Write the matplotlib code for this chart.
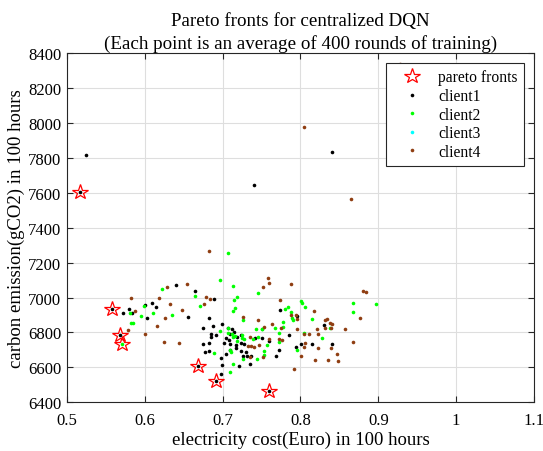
import numpy as np
import matplotlib
matplotlib.use("Agg")
import matplotlib.pyplot as plt

plt.rcParams['font.family'] = ['Liberation Serif', 'DejaVu Serif']

# pareto fronts
pareto_cost = [0.517, 0.558, 0.568, 0.571, 0.668, 0.691, 0.759]
pareto_emis = [7607, 6935, 6786, 6734, 6610, 6520, 6463]

# client1 (black)
c1_cost = [0.517, 0.524, 0.740, 0.841,
           0.558, 0.568, 0.572, 0.580, 0.583, 0.600, 0.603, 0.609, 0.614, 0.640,
           0.656, 0.665, 0.668, 0.683, 0.689, 0.691, 0.759, 0.675, 0.687, 0.699,
           0.685, 0.691, 0.685, 0.675, 0.682, 0.677, 0.682, 0.702, 0.698, 0.699,
           0.698, 0.721, 0.704, 0.709, 0.708, 0.709, 0.717, 0.717, 0.723, 0.728,
           0.724, 0.730, 0.731, 0.726, 0.736, 0.742, 0.769, 0.785, 0.710, 0.715,
           0.712, 0.719, 0.724, 0.735, 0.707, 0.751, 0.759, 0.773, 0.794, 0.796,
           0.774, 0.830, 0.840, 0.815, 0.801, 0.704]
c1_emis = [7607, 7817, 7645, 7833,
           6935, 6786, 6914, 6933, 6910, 6956, 6885, 6967, 6944, 7070,
           6891, 7038, 6610, 6883, 6994, 6520, 6463, 6824, 6835, 6847,
           6791, 6788, 6776, 6734, 6738, 6686, 6694, 6740, 6652, 6616,
           6562, 6606, 6677, 6698, 6755, 6734, 6730, 6711, 6738, 6736,
           6696, 6690, 6667, 6663, 6663, 6767, 6663, 6786, 6791, 6801,
           6820, 6776, 6788, 6618, 6828, 6767, 6753, 6700, 6719, 6896,
           6931, 6843, 6736, 6734, 6734, 6767]

# client2 (green)
c2_cost = [0.707, 0.696, 0.713, 0.622, 0.664, 0.718, 0.715, 0.671, 0.716, 0.713,
           0.726, 0.635, 0.610, 0.599, 0.595, 0.581, 0.582, 0.585, 0.571, 0.689,
           0.709, 0.713, 0.726, 0.753, 0.753, 0.744, 0.746, 0.739, 0.743, 0.750,
           0.746, 0.757, 0.767, 0.773, 0.778, 0.777, 0.780, 0.784, 0.788, 0.789,
           0.791, 0.801, 0.802, 0.806, 0.815, 0.805, 0.828, 0.795, 0.773, 0.868,
           0.868, 0.897, 0.838, 0.707, 0.697, 0.707, 0.713, 0.716, 0.725, 0.718,
           0.709, 0.711, 0.728, 0.712, 0.725, 0.750]
c2_emis = [7253, 7101, 7066, 7051, 7007, 7001, 6986, 6954, 6940, 6923,
           6873, 6898, 6912, 6952, 6893, 6912, 6856, 6852, 6734, 6683,
           6572, 6620, 6648, 6673, 6696, 6646, 6774, 6763, 6822, 6822,
           7028, 6728, 6824, 6799, 6831, 6862, 6935, 6946, 6919, 6883,
           6873, 6980, 6967, 6948, 6877, 6797, 6770, 6698, 6747, 6969,
           6915, 6961, 6828, 6828, 6807, 6795, 6772, 6778, 6788, 6749,
           6702, 6686, 6763, 6789, 6767, 6820]

# client3 (cyan) - not visible in the figure
c3_cost = []
c3_emis = []

# client4 (brown)
c4_cost = [0.805, 0.865, 0.928,
           0.682, 0.758, 0.760, 0.752, 0.788, 0.629, 0.654, 0.618, 0.582, 0.632,
           0.648, 0.588, 0.626, 0.615, 0.579, 0.600, 0.624, 0.644, 0.679, 0.684,
           0.676, 0.726, 0.746, 0.764, 0.753, 0.775, 0.773, 0.735, 0.733, 0.747,
           0.736, 0.740, 0.735, 0.752, 0.774, 0.788, 0.794, 0.796, 0.796, 0.805,
           0.811, 0.806, 0.823, 0.817, 0.832, 0.834, 0.832, 0.838, 0.840, 0.839,
           0.821, 0.857, 0.868, 0.877, 0.880, 0.884, 0.823, 0.839, 0.818, 0.835,
           0.847, 0.848, 0.801, 0.792, 0.759, 0.776, 0.805]
c4_emis = [7976, 7563, 8339,
           7269, 7110, 7083, 7059, 7076, 7061, 7078, 6998, 6996, 6961,
           6931, 6921, 6885, 6835, 6812, 6789, 6747, 6738, 7001, 6994,
           6963, 6891, 6870, 6851, 6830, 6824, 6763, 6772, 6723, 6728,
           6721, 6719, 6658, 6658, 6984, 6900, 6898, 6875, 6820, 6793,
           6793, 6740, 6791, 6925, 6872, 6877, 6826, 6854, 6847, 6828,
           6820, 6820, 6744, 6883, 7038, 7032, 6713, 6713, 6642, 6644,
           6677, 6637, 6663, 6593, 6763, 6759, 6717]

fig = plt.figure(figsize=(5.43, 4.52), dpi=100)
ax = fig.add_axes([0.1234, 0.1077, 0.86, 0.7728])

ax.plot(pareto_cost, pareto_emis, linestyle='none', marker='*', markersize=11.5,
        markerfacecolor='none', markeredgecolor='red', markeredgewidth=0.9,
        label='pareto fronts')
dot = dict(linestyle='none', marker='o', markersize=2.6, markeredgewidth=0)
ax.plot(c1_cost, c1_emis, color='black', label='client1', **dot)
ax.plot(c2_cost, c2_emis, color='#00ff00', label='client2', **dot)
ax.plot(c3_cost, c3_emis, color='cyan', label='client3', **dot)
ax.plot(c4_cost, c4_emis, color='#8f3e12', label='client4', **dot)

ax.set_xlim(0.5, 1.1)
ax.set_ylim(6400, 8400)
ax.set_xticks([0.5, 0.6, 0.7, 0.8, 0.9, 1.0, 1.1])
ax.set_xticklabels(['0.5', '0.6', '0.7', '0.8', '0.9', '1', '1.1'])
ax.set_yticks(np.arange(6400, 8401, 200))
ax.grid(True, color='#dedede', linewidth=0.8)
ax.set_axisbelow(True)
ax.tick_params(direction='in', top=True, right=True, labelsize=12,
               length=4, color='#262626')
ax.tick_params(axis='x', pad=7)
ax.tick_params(axis='y', pad=4)
for s in ax.spines.values():
    s.set_color('#262626')
    s.set_linewidth(0.8)

ax.set_title('Pareto fronts for centralized DQN\n(Each point is an average of 400 rounds of training)',
             fontsize=13.7, pad=4, linespacing=1.3)
ax.set_xlabel('electricity cost(Euro) in 100 hours', fontsize=13.5, labelpad=2)
ax.set_ylabel('carbon emission(gCO2) in 100 hours', fontsize=13.5, labelpad=2)

leg = ax.legend(loc='upper right', fontsize=11.2, fancybox=False, framealpha=1,
                edgecolor='#262626', borderaxespad=0.65, handletextpad=0.4,
                labelspacing=0.17, markerscale=1.0, borderpad=0.4, handlelength=2.55)
leg.get_frame().set_linewidth(0.8)

fig.savefig('out.png', dpi=100)
